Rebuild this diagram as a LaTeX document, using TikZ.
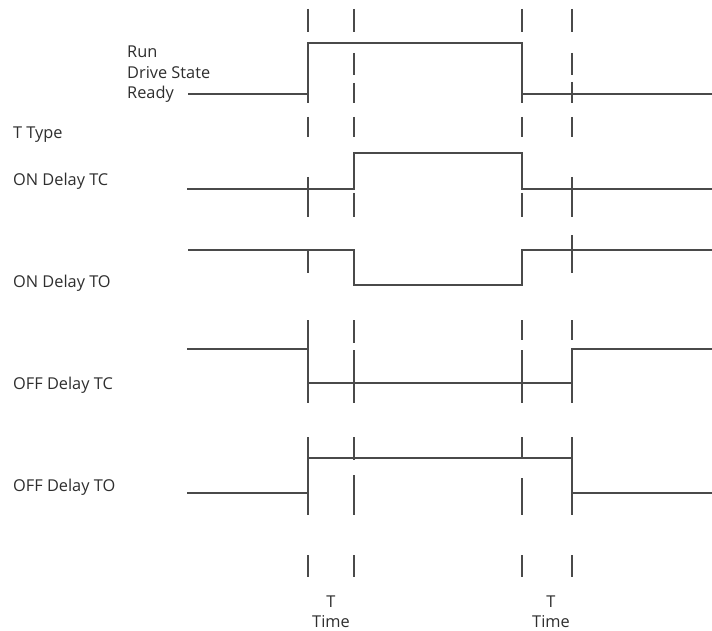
\documentclass[tikz,border=0pt]{standalone}
\usepackage{fontspec}
\setmainfont{Open Sans}
\definecolor{linegray}{HTML}{4A4A4A}
\definecolor{textgray}{HTML}{2E2E2E}
\begin{document}
\begin{tikzpicture}[x=1bp,y=-1bp,
  sig/.style={draw=linegray, line width=1.4bp},
  guide/.style={draw=linegray, line width=1.2bp},
  lbl/.style={anchor=base west, inner sep=0pt, text=textgray, font=\fontsize{16.4}{19}\selectfont},
  tlbl/.style={anchor=base, inner sep=0pt, text=textgray, font=\fontsize{16.4}{19}\selectfont}]
\useasboundingbox (0,0) rectangle (712,631);
\fill[white] (0,0) rectangle (712,631);
% guide lines (broken dashes)
\foreach \a/\b in {9/32,43/103,117/137,177/217,250/273,320/403,437/515,555/577}
  \draw[guide] (308,\a) -- (308,\b);
\foreach \a/\b in {9/32,53/75,83/103,117/137,153/190,193/217,250/285,320/343,350/403,437/460,475/515,555/577}
  \draw[guide] (354,\a) -- (354,\b);
\foreach \a/\b in {9/32,43/103,117/137,153/190,193/217,250/285,320/340,350/403,437/458,478/515,555/577}
  \draw[guide] (522,\a) -- (522,\b);
\foreach \a/\b in {9/32,53/75,82/103,117/137,177/217,235/273,320/340,348/403,437/515,555/577}
  \draw[guide] (572,\a) -- (572,\b);
% signals
\draw[sig] (188,94) -- (308,94) -- (308,43) -- (522,43) -- (522,94) -- (712,94);
\draw[sig] (187,189) -- (354,189) -- (354,153) -- (522,153) -- (522,189) -- (712,189);
\draw[sig] (188,250) -- (354,250) -- (354,285) -- (522,285) -- (522,250) -- (712,250);
\draw[sig] (187,349) -- (308,349) -- (308,383) -- (572,383) -- (572,349) -- (712,349);
\draw[sig] (187,493) -- (308,493) -- (308,458) -- (572,458) -- (572,493) -- (712,493);
% labels
\node[lbl] (run) at (127,57.5) {Run};
\node[lbl] (drive) at (127,78.5) {Drive State};
\node[lbl] (ready) at (127,98.5) {Ready};
\node[lbl] (ttype) at (13,139) {T Type};
\node[lbl] (ontc) at (13,185.5) {ON Delay TC};
\node[lbl] (onto) at (13,287) {ON Delay TO};
\node[lbl] (offtc) at (13,389) {OFF Delay TC};
\node[lbl] (offto) at (13,491) {OFF Delay TO};
\node[tlbl] (t1) at (331,607) {T};
\node[tlbl] (time1) at (331,627.5) {Time};
\node[tlbl] (t2) at (551,607) {T};
\node[tlbl] (time2) at (551,627.5) {Time};
\end{tikzpicture}
\end{document}
